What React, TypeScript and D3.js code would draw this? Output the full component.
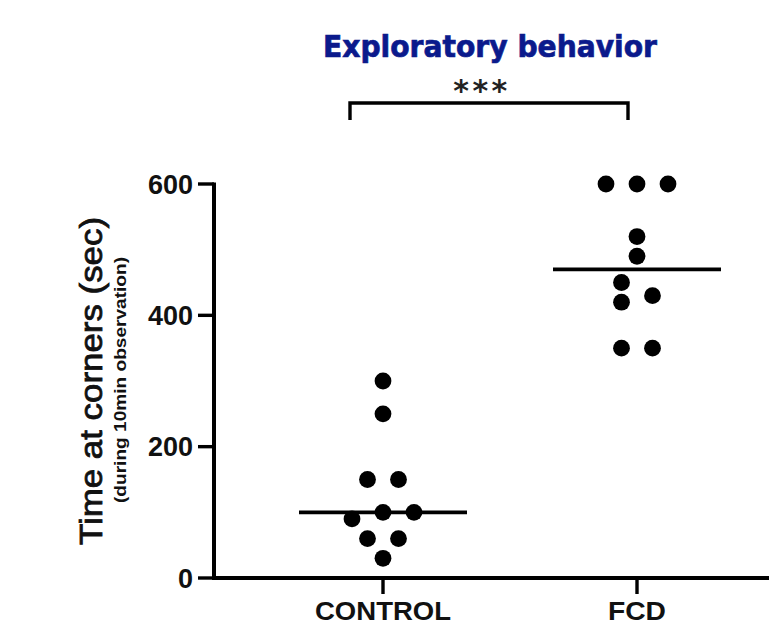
import React from "react";
import * as d3 from "d3";

const categories = ["CONTROL", "FCD"];
const controlValues = [300, 250, 150, 150, 100, 100, 90, 60, 60, 30];
const fcdValues = [600, 600, 600, 520, 490, 450, 430, 420, 350, 350];
const yTicks = [0, 200, 400, 600];
const title = "Exploratory behavior";
const yLabel = "Time at corners (sec)";
const ySubLabel = "(during 10min observation)";
const significance = "***";

const W = 769;
const H = 626;
const R = 8.4;
const HALF = 15.5;

type P = { v: number; i: number; k: number };

function swarm(values: number[], y: (v: number) => number): P[] {
  const pts = values.map((v, i) => ({ v, i, k: 0 })).sort((a, b) => b.v - a.v || a.i - b.i);
  const rows: P[][] = [];
  let cur: P[] = [];
  let startY = 0;
  for (const p of pts) {
    const py = y(p.v);
    if (cur.length && Math.abs(py - startY) < 2 * R) cur.push(p);
    else {
      if (cur.length) rows.push(cur);
      cur = [p];
      startY = py;
    }
  }
  if (cur.length) rows.push(cur);
  const placed: P[] = [];
  const thr = 2 * R + 1;
  const collides = (k: number, v: number) =>
    placed.some((q) => Math.hypot((q.k - k) * HALF, y(q.v) - y(v)) < thr);
  for (const row of rows) {
    const n = row.length;
    const pref: number[] = [];
    if (n % 2 === 1) {
      pref.push(0);
      for (let j = 1; pref.length < n; j++) pref.push(2 * j, -2 * j);
    } else {
      for (let j = 0; pref.length < n; j++) pref.push(-(2 * j + 1), 2 * j + 1);
    }
    row.forEach((p, j) => {
      let k = pref[j];
      if (collides(k, p.v)) {
        for (let s = 1; s < 20; s++) {
          if (!collides(k - s, p.v)) { k = k - s; break; }
          if (!collides(k + s, p.v)) { k = k + s; break; }
        }
      }
      p.k = k;
      placed.push(p);
    });
  }
  return placed;
}

export default function App() {
  const x = d3.scalePoint<string>().domain(categories).range([383, 637]);
  const y = d3.scaleLinear().domain([0, 600]).range([578, 184]);
  const groups = [controlValues, fcdValues];
  const axisX = 214;
  const axisY = y(0);

  return (
    <svg
      width={W}
      height={H}
      style={{ position: "absolute", left: 0, top: 0, background: "#fff" }}
    >
      <text
        x={490}
        y={57}
        textAnchor="middle"
        fontFamily="'DejaVu Sans', Verdana, sans-serif"
        fontWeight="bold"
        fontSize={30}
        fill="#0b1a8c"
        stroke="#0b1a8c"
        strokeWidth={0.7}
        textLength={334}
        lengthAdjust="spacingAndGlyphs"
      >
        {title}
      </text>
      <text
        x={482}
        y={101}
        textAnchor="middle"
        fontFamily="'DejaVu Sans', sans-serif"
        fontWeight="bold"
        fontSize={30}
        fill="#222"
        letterSpacing={3.5}
      >
        {significance}
      </text>
      <path
        d={`M${x("CONTROL")! - 33},120V103H${x("FCD")! - 9}V120`}
        fill="none"
        stroke="#000"
        strokeWidth={3.4}
      />

      {/* y axis */}
      <line x1={axisX} x2={axisX} y1={y(600) - 1.5} y2={axisY + 1.5} stroke="#000" strokeWidth={4} />
      {yTicks.map((t) => (
        <g key={t}>
          <line x1={198} x2={axisX} y1={y(t)} y2={y(t)} stroke="#000" strokeWidth={3.4} />
          <text
            x={193}
            y={y(t) + 9.5}
            textAnchor="end"
            fontFamily="'Liberation Sans', Arial, sans-serif"
            fontWeight="bold"
            fontSize={27}
            fill="#111"
          >
            {t}
          </text>
        </g>
      ))}

      {/* x axis */}
      <line x1={axisX - 2} x2={W + 5} y1={axisY} y2={axisY} stroke="#000" strokeWidth={4} />
      {categories.map((c) => (
        <g key={c}>
          <line x1={x(c)} x2={x(c)} y1={axisY} y2={594} stroke="#000" strokeWidth={3.4} />
          <text
            x={x(c)}
            y={620}
            textAnchor="middle"
            fontFamily="'Liberation Sans', Arial, sans-serif"
            fontWeight="bold"
            fontSize={26}
            fill="#111"
            textLength={c.length > 3 ? 136 : 58}
            lengthAdjust="spacingAndGlyphs"
          >
            {c}
          </text>
        </g>
      ))}

      {/* y labels */}
      <text
        transform={`translate(102,381) rotate(-90)`}
        textAnchor="middle"
        fontFamily="'Liberation Sans', Arial, sans-serif"
        fontSize={32}
        fill="#111"
        stroke="#111"
        strokeWidth={0.8}
        textLength={328}
        lengthAdjust="spacingAndGlyphs"
      >
        {yLabel}
      </text>
      <text
        transform={`translate(126,380) rotate(-90)`}
        textAnchor="middle"
        fontFamily="'Liberation Sans', Arial, sans-serif"
        fontWeight="bold"
        fontSize={17}
        fill="#111"
        textLength={246}
        lengthAdjust="spacingAndGlyphs"
      >
        {ySubLabel}
      </text>

      {/* points and medians */}
      {groups.map((vals, gi) => {
        const cx = x(categories[gi])!;
        const pts = swarm(vals, y);
        const med = d3.median(vals)!;
        return (
          <g key={gi}>
            {pts.map((p) => (
              <circle key={p.i} cx={cx + p.k * HALF} cy={y(p.v)} r={R} fill="#000" />
            ))}
            <line x1={cx - 84} x2={cx + 84} y1={y(med)} y2={y(med)} stroke="#000" strokeWidth={3.6} />
          </g>
        );
      })}
    </svg>
  );
}
